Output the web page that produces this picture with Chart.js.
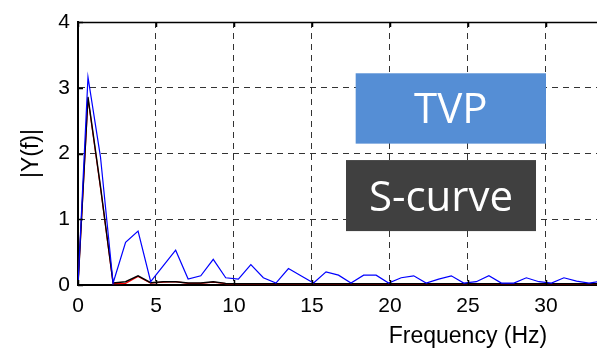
<!DOCTYPE html>
<html>
<head>
<meta charset="utf-8">
<script src="https://cdn.jsdelivr.net/npm/chart.js@4.4.1/dist/chart.umd.min.js"></script>
<style>
  html, body { margin: 0; padding: 0; background: #fff; }
  canvas { display: block; }
</style>
</head>
<body>
<canvas id="spectrum" width="597" height="350"></canvas>
<script>
// frequency bins (Hz)
const freqHz = [0, 0.64, 1.44, 2.25, 3.05, 3.85, 4.66, 5.46, 6.26, 7.06, 7.87, 8.67, 9.47,
  10.28, 11.08, 11.88, 12.69, 13.49, 14.29, 15.10, 15.90, 16.70, 17.50, 18.31, 19.11,
  19.91, 20.72, 21.52, 22.32, 23.12, 23.93, 24.73, 25.53, 26.34, 27.14, 27.94, 28.74,
  29.55, 30.35, 31.15, 31.96, 32.76, 33.56];

// |Y(f)| of each trace
const blueMag = [0, 3.16, 1.95, 0.03, 0.65, 0.82, 0.05, 0.29, 0.53, 0.09, 0.14, 0.39, 0.11,
  0.09, 0.31, 0.11, 0.03, 0.25, 0.14, 0.03, 0.20, 0.15, 0.03, 0.15, 0.15,
  0.03, 0.11, 0.14, 0.03, 0.09, 0.14, 0.03, 0.05, 0.14, 0.03, 0.03, 0.11,
  0.05, 0.03, 0.11, 0.06, 0.03, 0.06];
const blackMag = [0, 2.86, 1.50, 0.03, 0.05, 0.14, 0.035, 0.05, 0.05, 0.03, 0.03, 0.05, 0.025,
  0.02, 0.02, 0.02, 0.02, 0.02, 0.02, 0.02, 0.02, 0.02, 0.02, 0.02, 0.02,
  0.02, 0.02, 0.02, 0.02, 0.02, 0.02, 0.02, 0.02, 0.02, 0.02, 0.02, 0.02,
  0.02, 0.02, 0.02, 0.02, 0.02, 0.02];
const redMag = [0, 2.84, 1.48, 0.02, 0.025, 0.13, 0.03, 0.045, 0.05, 0.025, 0.025, 0.045, 0.02,
  0.015, 0.015, 0.015, 0.015, 0.015, 0.015, 0.015, 0.015, 0.015, 0.015, 0.015, 0.015,
  0.015, 0.015, 0.015, 0.015, 0.015, 0.015, 0.015, 0.015, 0.015, 0.015, 0.015, 0.015,
  0.015, 0.015, 0.015, 0.015, 0.015, 0.015];

const xTicks = [0, 5, 10, 15, 20, 25, 30];
const yTicks = [0, 1, 2, 3, 4];

// the original axis ran to 50 Hz and was cropped, so the xlabel sits at 25 Hz
const fullAxisMaxHz = 50;
const visibleMaxHz = 33.27;

// text boxes in data coordinates
const labelBoxes = [
  { text: "TVP", x0: 17.8, x1: 30.0, y0: 3.22, y1: 2.15, fill: "#558ED5" },
  { text: "S-curve", x0: 17.18, x1: 29.36, y0: 1.90, y1: 0.82, fill: "#404040" }
];

const toPoints = (vals) => freqHz.map((f, i) => ({ x: f, y: vals[i] }));

const axisFont = { family: "'Liberation Sans', Arial, sans-serif", size: 21 };
const titleFont = { family: "'Liberation Sans', Arial, sans-serif", size: 23 };

const overlay = {
  id: "overlay",
  afterDraw(chart) {
    const { ctx, chartArea: a, scales } = chart;
    const x = scales.x, y = scales.y;
    ctx.save();

    // solid frame on top
    ctx.strokeStyle = "#000";
    ctx.lineWidth = 1.5;
    ctx.beginPath();
    ctx.moveTo(a.left, a.top + 0.5);
    ctx.lineTo(a.right, a.top + 0.5);
    ctx.stroke();

    // inward ticks, matlab style
    ctx.lineWidth = 1.5;
    ctx.beginPath();
    xTicks.forEach((t) => {
      const px = Math.round(x.getPixelForValue(t)) + 0.5;
      ctx.moveTo(px, a.bottom); ctx.lineTo(px, a.bottom - 5);
      ctx.moveTo(px, a.top); ctx.lineTo(px, a.top + 5);
    });
    yTicks.forEach((t) => {
      const py = Math.round(y.getPixelForValue(t)) + 0.5;
      ctx.moveTo(a.left, py); ctx.lineTo(a.left + 5, py);
    });
    ctx.stroke();

    // x label
    ctx.fillStyle = "#000";
    ctx.font = "23px 'Liberation Sans', Arial, sans-serif";
    ctx.textAlign = "center";
    ctx.textBaseline = "middle";
    ctx.fillText("Frequency (Hz)", x.getPixelForValue(fullAxisMaxHz / 2), 337);

    // boxes
    ctx.font = "42px 'Open Sans', sans-serif";
    ctx.textBaseline = "alphabetic";
    labelBoxes.forEach((b) => {
      const l = x.getPixelForValue(b.x0), r = x.getPixelForValue(b.x1);
      const t = y.getPixelForValue(b.y0), btm = y.getPixelForValue(b.y1);
      ctx.fillStyle = b.fill;
      ctx.fillRect(l, t, r - l, btm - t);
      const m = ctx.measureText(b.text);
      ctx.fillStyle = "#fff";
      ctx.fillText(b.text, (l + r) / 2, (t + btm) / 2 + m.actualBoundingBoxAscent / 2);
    });

    ctx.restore();
  }
};

new Chart(document.getElementById("spectrum"), {
  type: "line",
  data: {
    datasets: [
      { label: "blue", data: toPoints(blueMag), borderColor: "#0000FF", borderWidth: 1.2 },
      { label: "black", data: toPoints(blackMag), borderColor: "#000000", borderWidth: 1.4 },
      { label: "red", data: toPoints(redMag), borderColor: "#FF0000", borderWidth: 1.2 }
    ]
  },
  options: {
    responsive: false,
    animation: false,
    events: [],
    elements: {
      point: { radius: 0 },
      line: { tension: 0 }
    },
    layout: { padding: { top: 22, right: 0, left: 0, bottom: 0 } },
    plugins: { legend: { display: false }, tooltip: { enabled: false } },
    scales: {
      x: {
        type: "linear",
        min: 0,
        max: visibleMaxHz,
        afterFit: (s) => { s.height = 65; },
        afterBuildTicks: (s) => { s.ticks = xTicks.map((v) => ({ value: v })); },
        grid: { color: "rgba(0,0,0,0.8)", lineWidth: 1, drawTicks: false },
        border: { display: true, color: "#000", width: 2, dash: [6, 5] },
        ticks: { color: "#000", font: axisFont, padding: 9, maxRotation: 0 }
      },
      y: {
        min: 0,
        max: 4,
        afterFit: (s) => { s.width = 78; },
        afterBuildTicks: (s) => { s.ticks = yTicks.map((v) => ({ value: v })); },
        grid: { color: "rgba(0,0,0,0.8)", lineWidth: 1, drawTicks: false },
        border: { display: true, color: "#000", width: 2, dash: [6, 5] },
        ticks: { color: "#000", font: axisFont, padding: 8 },
        title: { display: true, text: "|Y(f)|", color: "#000", font: titleFont, padding: { top: 18, bottom: 0 } }
      }
    }
  },
  plugins: [overlay]
});
</script>
</body>
</html>
